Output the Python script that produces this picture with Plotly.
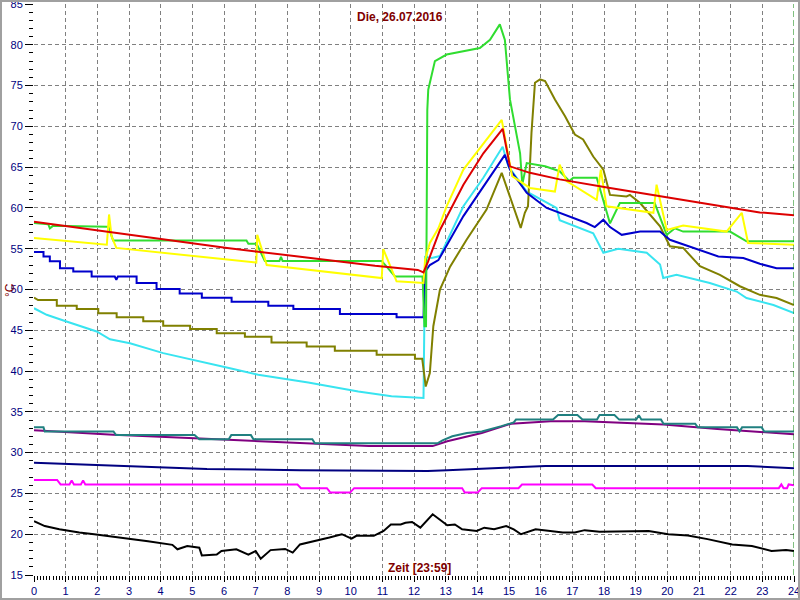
import plotly.graph_objects as go

# ---------------- data (hour of day, temperature °C) ----------------
red_t = [0, 6.1, 9.19, 10.77, 12.12, 12.3, 12.44, 12.82, 13.56, 14.19, 14.8, 15.03, 15.66, 16.6, 18.19, 19.66, 22.92, 24]
red_v = [58.3, 55.1, 53.65, 52.9, 52.4, 52.1, 53.4, 57.3, 62.85, 66.7, 69.7, 65.1, 64.3, 63.5, 62.45, 61.5, 59.45, 59.1]

yellow_t = [0, 2.14, 2.3, 2.37, 2.45, 2.6, 6.19, 7.02, 7.05, 7.35, 10.98, 11.03, 11.45, 12.24, 12.3, 12.35, 12.5, 12.77,
            13.03, 13.56, 14.77, 15.1, 15.66, 16.45, 16.6, 16.82, 17.77, 17.9, 18.08, 19.56, 19.66, 19.98, 20.5, 21.87,
            22.35, 22.55, 24]
yellow_v = [56.3, 55.5, 55.5, 59.2, 56.5, 55.1, 53.6, 53.3, 56.7, 53.0, 51.4, 54.95, 51.0, 50.8, 50.8, 53.65, 55.7, 57.5,
            60.2, 64.7, 70.8, 63.9, 62.45, 62.0, 65.3, 63.3, 61.0, 64.7, 60.2, 59.4, 62.85, 57.3, 57.85, 57.1,
            59.4, 55.7, 55.5]

green_t = [0, 0.45, 0.5, 0.6, 2.3, 2.35, 2.5, 6.71, 6.77, 7.03, 7.29, 7.75, 7.8, 7.85, 10.98, 11.4, 12.27, 12.33, 12.38,
           12.42, 12.45, 12.66, 13.03, 13.77, 14.08, 14.4, 14.71, 14.87, 15.03, 15.35, 15.42, 15.56, 16.14, 16.6, 16.9,
           17.03, 17.77, 18.19, 18.5, 19.6, 19.98, 20.24, 20.5, 21.98, 22.5, 24]
green_v = [58.15, 58.0, 57.5, 57.8, 57.7, 57.7, 56.0, 56.0, 55.6, 55.6, 53.5, 53.5, 54.0, 53.5, 53.5, 51.6, 51.6, 45.5, 45.5,
           72.0, 74.5, 78.0, 78.8, 79.4, 79.6, 80.6, 82.5, 80.6, 73.3, 66.7, 62.9, 65.5, 65.1, 64.5, 63.3,
           63.7, 63.7, 58.1, 60.6, 60.6, 56.7, 57.5, 57.1, 57.1, 55.9, 55.9]

blue_t = [0, 0.3, 0.3, 0.5, 0.5, 0.82, 0.82, 1.24, 1.24, 1.82, 1.82, 2.55, 2.6, 2.65, 3.24, 3.24, 3.87, 3.87, 4.6, 4.6,
          5.3, 5.3, 6.24, 6.24, 7.4, 7.4, 8.19, 8.19, 9.66, 9.66, 11.45, 11.45, 12.3, 12.35, 12.5, 12.77, 13.56, 14.19,
          14.87, 15.03, 15.56, 16.19, 16.72, 17.45, 17.71, 17.98, 18.19, 18.56, 19.14, 19.77, 20.08, 20.82, 21.61,
          22.4, 22.92, 23.45, 24]
blue_v = [54.6, 54.6, 54.05, 54.05, 53.45, 53.45, 52.6, 52.6, 52.2, 52.2, 51.6, 51.6, 51.2, 51.6, 51.6, 50.8, 50.8, 50.05,
          50.05, 49.5, 49.5, 49.0, 49.0, 48.5, 48.5, 48.0, 48.0, 47.6, 47.6, 47.0, 47.0, 46.6, 46.6, 52.2, 53.0, 53.6,
          59.0, 62.6, 66.5, 64.7, 61.85, 60.0, 59.2, 58.15, 57.65, 58.55, 57.65, 56.7, 57.1, 57.1, 56.1, 55.1, 54.05,
          53.85, 53.15, 52.6, 52.6]

olive_t = [0, 0.13, 0.72, 0.72, 1.35, 1.35, 2.03, 2.03, 2.61, 2.61, 3.45, 3.45, 4.08, 4.08, 4.93, 4.93, 5.77, 5.77,
           6.66, 6.66, 7.5, 7.5, 8.61, 8.61, 9.5, 9.5, 10.82, 10.82, 12.03, 12.03, 12.26, 12.37, 12.5, 12.61, 12.82,
           13.14, 13.66, 14.29, 14.77, 14.98, 15.37, 15.5, 15.6, 15.71, 15.82, 15.98, 16.14, 16.45, 16.77, 17.08,
           17.34, 17.66, 17.98, 18.19, 18.71, 18.82, 19.14, 19.77, 20.08, 20.5, 21.03, 21.66, 22.29, 22.92, 23.45, 24]
olive_v = [49.0, 48.7, 48.7, 48.0, 48.0, 47.6, 47.6, 47.1, 47.1, 46.6, 46.6, 46.1, 46.1, 45.55, 45.55, 45.15, 45.15, 44.65,
           44.65, 44.2, 44.2, 43.5, 43.5, 43.0, 43.0, 42.5, 42.5, 42.0, 42.0, 41.5, 41.5, 38.1, 39.75, 45.5, 50.0,
           52.8, 56.1, 59.8, 64.3, 61.85, 57.55, 59.4, 60.2, 69.2, 75.35, 75.75, 75.55, 73.3, 71.25, 69.0,
           68.4, 66.3, 64.7, 61.6, 61.4, 61.6, 60.6, 57.75, 55.3, 55.1, 52.85, 51.8, 50.4, 49.35, 48.95, 48.1]

cyan_t = [0, 0.4, 0.93, 1.98, 2.4, 3.03, 4.08, 5.14, 6.19, 7.08, 8.66, 10.24, 11.29, 12.3, 12.35, 12.56, 12.82, 13.56,
          14.19, 14.8, 14.98, 15.56, 16.5, 16.6, 17.66, 17.98, 18.45, 19.35, 19.77, 19.87, 20.29, 21.34, 22.19, 22.5,
          23.35, 24]
cyan_v = [47.7, 46.9, 46.2, 44.85, 43.9, 43.4, 42.2, 41.3, 40.35, 39.55, 38.6, 37.5, 36.9, 36.7, 54.0, 53.85, 54.1, 60.2,
          63.7, 67.5, 65.1, 62.0, 60.0, 58.5, 56.9, 54.5, 55.0, 54.5, 53.05, 51.4, 51.8, 50.8, 49.75, 48.95,
          48.1, 47.1]

teal_t = [0, 0.3, 0.34, 2.51, 2.59, 5.07, 5.22, 6.15, 6.23, 6.85, 6.93, 8.79, 8.87, 12.74, 12.9, 13.21, 13.67, 14.14,
          14.76, 15.15, 15.22, 16.39, 16.55, 17.16, 17.32, 17.78, 17.86, 18.33, 18.48, 19.02, 19.1, 19.18, 19.8, 19.88,
          20.88, 20.96, 22.2, 22.28, 22.36, 22.98, 23.06, 24]
teal_v = [33.1, 33.1, 32.6, 32.6, 32.15, 32.15, 31.65, 31.65, 32.15, 32.15, 31.65, 31.65, 31.15, 31.15, 31.5, 32.0, 32.4,
          32.6, 33.25, 33.7, 34.05, 34.05, 34.6, 34.6, 34.05, 34.05, 34.6, 34.6, 34.05, 34.05, 34.6, 34.05, 34.05,
          33.55, 33.55, 33.1, 33.1, 32.6, 33.1, 33.1, 32.6, 32.6]

purple_t = [0, 2.51, 5.07, 8.79, 10.57, 12.59, 13.05, 14.14, 15.07, 16.31, 17.39, 19.88, 21.58, 24]
purple_v = [32.75, 32.2, 31.75, 31.15, 30.8, 30.8, 31.4, 32.4, 33.55, 33.85, 33.85, 33.45, 32.9, 32.25]

navy_t = [0, 2.82, 4.22, 5.46, 8.4, 10.73, 12.43, 13.05, 13.83, 15.22, 16.15, 22.53, 24]
navy_v = [28.75, 28.35, 28.2, 28.0, 27.85, 27.8, 27.75, 27.85, 28.0, 28.2, 28.35, 28.35, 28.1]

magenta_t = [0, 0.73, 0.84, 1.12, 1.19, 1.26, 1.48, 1.55, 1.62, 8.32, 8.43, 9.25, 9.36, 9.98, 10.11, 13.52, 13.6, 14.01,
             14.14, 15.3, 15.41, 17.63, 17.74, 23.52, 23.6, 23.67, 23.78, 23.83, 24]
magenta_v = [26.65, 26.65, 26.1, 26.1, 26.6, 26.1, 26.1, 26.6, 26.1, 26.1, 25.65, 25.65, 25.1, 25.1, 25.65, 25.65, 25.1,
             25.1, 25.65, 25.65, 26.1, 26.1, 25.65, 25.65, 26.1, 25.65, 25.65, 26.1, 26.0]

black_t = [0, 0.34, 0.8, 1.43, 1.9, 2.35, 2.98, 3.6, 4.37, 4.53, 4.84, 5.22, 5.3, 5.77, 5.92, 6.39, 6.77, 7.0, 7.16, 7.47,
           7.93, 8.17, 8.4, 8.87, 9.33, 9.72, 10.03, 10.18, 10.73, 11.04, 11.27, 11.58, 11.73, 11.94, 12.2, 12.59,
           12.82, 13.05, 13.29, 13.52, 13.98, 14.22, 14.53, 14.91, 15.15, 15.38, 15.84, 16.31, 16.7, 17.08, 17.39,
           17.86, 19.41, 20.03, 20.65, 21.27, 22.05, 22.67, 23.29, 23.75, 24]
black_v = [21.6, 21.0, 20.6, 20.2, 20.0, 19.8, 19.45, 19.15, 18.7, 18.15, 18.55, 18.35, 17.4, 17.5, 17.95, 18.15, 17.5,
           17.95, 17.0, 18.05, 18.2, 17.75, 18.75, 19.15, 19.6, 20.0, 19.45, 19.8, 19.8, 20.4, 21.2, 21.2, 21.4, 21.5,
           20.8, 22.45, 21.8, 21.1, 21.2, 20.6, 20.4, 20.8, 20.6, 21.0, 20.6, 20.0, 20.6, 20.4, 20.2, 20.2, 20.5,
           20.3, 20.4, 20.0, 19.85, 19.4, 18.75, 18.55, 17.95, 18.05, 17.95]

x_ticks = list(range(0, 25))
y_ticks = list(range(15, 90, 5))
title_text = "Die, 26.07.2016"
xlabel_text = "Zeit [23:59]"
ylabel_text = "°C"

# ---------------- figure ----------------
series = [
    (black_t, black_v, "#000000"),
    (magenta_t, magenta_v, "#ff00ff"),
    (navy_t, navy_v, "#000080"),
    (purple_t, purple_v, "#800080"),
    (teal_t, teal_v, "#208080"),
    (cyan_t, cyan_v, "#38e4f0"),
    (olive_t, olive_v, "#808000"),
    (blue_t, blue_v, "#0000cc"),
    (green_t, green_v, "#30dd30"),
    (yellow_t, yellow_v, "#ffff00"),
    (red_t, red_v, "#dd0000"),
]

fig = go.Figure()
for t, v, c in series:
    fig.add_trace(go.Scatter(x=t, y=v, mode="lines", line=dict(color=c, width=2),
                             showlegend=False, hoverinfo="skip"))

tickfont = dict(family="Liberation Sans, Arial, sans-serif", size=11, color="#000080")
fig.update_layout(
    width=800, height=600,
    margin=dict(l=34, r=6, t=4, b=25),
    paper_bgcolor="white", plot_bgcolor="white",
    xaxis=dict(range=[0, 24], tickvals=x_ticks, ticks="outside", ticklen=6, tickcolor="#000000",
               tickfont=tickfont, showgrid=True, gridcolor="#808080", griddash="4px,3px", gridwidth=1,
               zeroline=False, showline=False, fixedrange=True, automargin=False, ticklabeloverflow="allow",
               minor=dict(dtick=0.1, ticks="outside", ticklen=4, tickcolor="#000000", showgrid=False)),
    yaxis=dict(range=[15, 85], tickvals=y_ticks, ticks="outside", ticklen=8, tickcolor="#000000",
               tickfont=tickfont, showgrid=True, gridcolor="#808080", griddash="4px,3px", gridwidth=1,
               zeroline=False, showline=False, fixedrange=True, automargin=False, ticklabeloverflow="allow",
               minor=dict(dtick=1, ticks="outside", ticklen=4, tickcolor="#000000", showgrid=False)),
)

# current-time marker
fig.add_shape(type="line", xref="x", yref="paper", x0=24, x1=24, y0=0, y1=1,
              line=dict(color="#008000", width=1, dash="6px,3px"))
# outer frame
fig.add_shape(type="rect", xref="paper", yref="paper",
              x0=-33 / 760, x1=1 + 5 / 760, y0=-24 / 571, y1=1 + 3 / 571,
              line=dict(color="#a0a0a0", width=2), fillcolor="rgba(0,0,0,0)", layer="above")

fig.add_annotation(text="<b>" + title_text + "</b>", xref="paper", yref="paper",
                   x=(400 - 34) / 760, y=1 - (17 - 4) / 571, showarrow=False,
                   xanchor="center", yanchor="middle",
                   font=dict(family="Liberation Sans, Arial, sans-serif", size=12, color="#800000"))
fig.add_annotation(text="<b>" + xlabel_text + "</b>", xref="paper", yref="paper",
                   x=(419 - 34) / 760, y=(575 - 568) / 571, showarrow=False,
                   xanchor="center", yanchor="middle",
                   font=dict(family="Liberation Sans, Arial, sans-serif", size=12, color="#800000"))
fig.add_annotation(text=ylabel_text, xref="paper", yref="paper", textangle=-90,
                   x=(10 - 34) / 760, y=1 - (290 - 4) / 571, showarrow=False,
                   xanchor="center", yanchor="middle",
                   font=dict(family="Liberation Sans, Arial, sans-serif", size=12, color="#800000"))

fig.write_html("out.html", config={"displayModeBar": False},
               post_script="document.body.style.margin='0px';document.body.style.overflow='hidden';")
